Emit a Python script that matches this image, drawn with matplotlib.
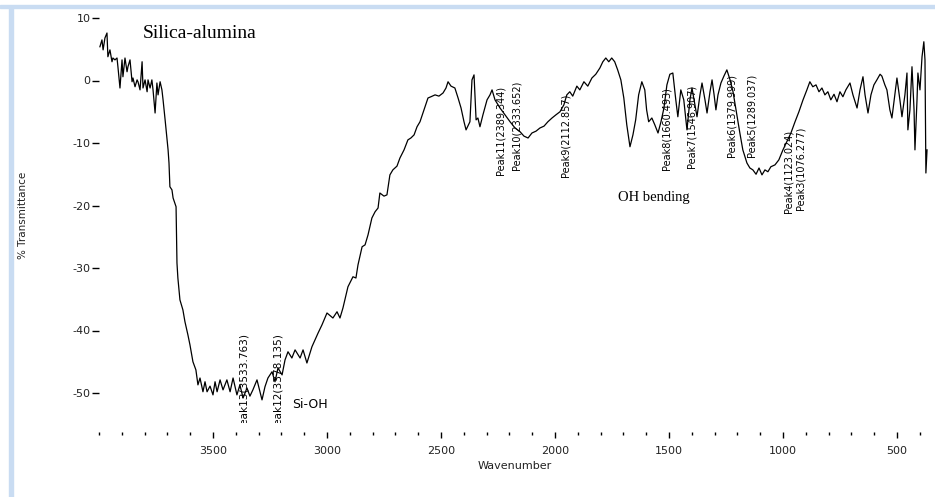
import matplotlib
matplotlib.use("Agg")
import matplotlib.pyplot as plt
from matplotlib.patches import Rectangle
from matplotlib.transforms import Bbox, TransformedBbox
from matplotlib.ticker import MultipleLocator

plt.rcParams["axes.unicode_minus"] = False

# ---- spectrum (wavenumber, % transmittance) ----
wavenumber = [3996, 3987, 3982, 3974, 3965, 3961, 3952, 3943, 3939, 3930,
              3921, 3917, 3908, 3899, 3895, 3886, 3877, 3873, 3864, 3855,
              3851, 3842, 3833, 3829, 3820, 3811, 3807, 3798, 3789, 3785,
              3776, 3768, 3763, 3754, 3746, 3741, 3732, 3724, 3719, 3710,
              3697, 3693, 3689, 3680, 3675, 3662, 3658, 3654, 3645, 3632,
              3623, 3610, 3601, 3588, 3575, 3566, 3557, 3544, 3535, 3526,
              3513, 3500, 3491, 3482, 3469, 3456, 3439, 3425, 3412, 3395,
              3382, 3368, 3351, 3338, 3325, 3307, 3294, 3285, 3272, 3259,
              3241, 3228, 3215, 3197, 3184, 3171, 3154, 3140, 3118, 3105,
              3088, 3066, 3039, 3022, 3000, 2974, 2956, 2943, 2930, 2908,
              2886, 2873, 2864, 2846, 2833, 2820, 2803, 2789, 2776, 2768,
              2750, 2737, 2724, 2711, 2693, 2680, 2662, 2645, 2632, 2618,
              2605, 2592, 2579, 2566, 2557, 2544, 2526, 2509, 2491, 2478,
              2469, 2456, 2439, 2425, 2412, 2399, 2390, 2382, 2373, 2364,
              2355, 2346, 2338, 2329, 2316, 2298, 2285, 2276, 2263, 2241,
              2219, 2197, 2175, 2153, 2136, 2118, 2101, 2083, 2066, 2048,
              2031, 2013, 1996, 1978, 1961, 1948, 1935, 1922, 1904, 1891,
              1873, 1856, 1838, 1821, 1803, 1790, 1777, 1764, 1751, 1738,
              1725, 1711, 1698, 1685, 1671, 1658, 1646, 1633, 1619, 1606,
              1598, 1589, 1575, 1562, 1548, 1535, 1522, 1509, 1496, 1483,
              1470, 1461, 1448, 1435, 1421, 1408, 1399, 1386, 1377, 1364,
              1355, 1342, 1333, 1320, 1311, 1302, 1294, 1285, 1272, 1259,
              1246, 1232, 1219, 1206, 1189, 1176, 1158, 1145, 1132, 1118,
              1105, 1092, 1079, 1066, 1053, 1035, 1018, 1000, 983, 965,
              947, 930, 912, 895, 882, 869, 855, 842, 829, 816,
              803, 790, 776, 763, 750, 737, 724, 706, 693, 675,
              662, 649, 640, 627, 614, 601, 588, 574, 566, 553,
              544, 531, 522, 509, 500, 487, 478, 465, 456, 452,
              443, 434, 425, 421, 412, 408, 399, 390, 382, 377,
              373, 368]
transmittance = [5.4, 6.5, 4.9, 6.8, 7.6, 3.8, 4.9, 3.0, 3.6, 3.3,
                 3.6, 2.2, -1.2, 3.3, 0.6, 3.6, 1.4, 2.2, 3.3, -0.2,
                 0.4, -1.0, 0.1, -0.2, -1.5, 3.0, -1.2, 0.1, -1.8, 0.1,
                 -1.2, 0.1, -1.5, -5.2, -0.4, -2.3, -0.2, -1.5, -3.1, -6.3,
                 -11.1, -13.2, -17.0, -17.5, -18.8, -20.2, -29.2, -31.6, -35.1, -36.7,
                 -38.6, -40.7, -42.3, -45.0, -46.3, -48.7, -47.6, -49.8, -48.2, -49.8,
                 -48.9, -50.3, -48.2, -49.8, -47.9, -49.5, -47.9, -49.8, -47.6, -50.3,
                 -48.7, -50.8, -49.2, -50.5, -49.5, -47.9, -49.8, -51.1, -49.0, -47.6,
                 -46.6, -48.2, -46.0, -47.1, -44.7, -43.4, -44.4, -43.1, -44.4, -43.1,
                 -45.2, -42.6, -40.4, -39.1, -37.2, -38.0, -37.0, -38.0, -36.4, -33.0,
                 -31.4, -31.6, -29.5, -26.6, -26.3, -24.7, -22.0, -21.0, -20.4, -18.0,
                 -18.5, -18.3, -15.1, -14.3, -13.7, -12.4, -11.1, -9.5, -9.2, -8.7,
                 -7.4, -6.6, -5.2, -3.8, -2.8, -2.6, -2.3, -2.5, -2.0, -1.2,
                 -0.2, -0.9, -1.2, -2.8, -4.4, -6.6, -7.9, -7.3, -6.6, 0.1,
                 0.9, -6.3, -6.0, -7.4, -5.5, -3.1, -2.3, -1.5, -3.1, -4.4,
                 -5.5, -6.6, -7.6, -8.2, -8.9, -9.2, -8.4, -8.1, -7.6, -7.3,
                 -6.6, -6.0, -5.5, -5.0, -3.9, -2.3, -1.8, -2.5, -0.9, -1.5,
                 -0.2, -0.9, 0.4, 1.0, 2.0, 3.0, 3.6, 3.0, 3.6, 3.0,
                 1.7, 0.1, -2.8, -7.1, -10.6, -8.7, -6.3, -2.3, -0.2, -1.5,
                 -4.7, -6.6, -6.0, -7.1, -8.4, -6.6, -4.4, -0.7, 1.0, 1.2,
                 -3.1, -5.8, -1.5, -3.1, -7.9, -3.1, -1.2, -3.9, -5.8, -2.3,
                 -0.4, -3.1, -5.2, -1.8, 0.1, -2.3, -4.7, -2.3, -0.4, 0.7,
                 1.7, 0.1, -1.8, -4.7, -8.4, -11.1, -13.2, -14.0, -14.3, -15.0,
                 -14.0, -15.1, -14.3, -14.6, -13.8, -13.5, -12.7, -11.1, -9.8, -8.4,
                 -6.6, -5.0, -3.1, -1.5, -0.2, -1.0, -0.7, -1.8, -1.2, -2.3,
                 -1.8, -3.1, -2.2, -3.4, -1.8, -2.6, -1.5, -0.4, -2.3, -4.4,
                 -1.5, 0.6, -2.3, -5.2, -2.3, -0.7, 0.1, 1.0, 0.7, -0.7,
                 -1.5, -4.7, -6.0, -2.3, 0.4, -3.1, -5.8, -2.3, 1.2, -7.9,
                 -4.7, 2.2, -4.7, -11.1, -3.1, 1.2, -1.5, 3.8, 6.2, 3.3,
                 -14.8, -11.1]

# peak labels (text, wavenumber position, transmittance of text end)
peak_top_labels = ["Peak11(2389.344)", "Peak10(2333.652)", "Peak9(2112.857)",
                   "Peak8(1660.493)", "Peak7(1546.907)", "Peak6(1379.999)",
                   "Peak5(1289.037)", "Peak4(1123.024)", "Peak3(1076.277)"]
peak_top_x = [2241, 2167, 1952, 1509, 1399, 1224, 1136, 976, 925]
peak_top_y = [-15.1, -14.3, -15.4, -14.3, -14.0, -12.2, -12.2, -21.2, -20.7]

peak_low_labels = ["Peak13(3533.763)", "Peak12(3378.135)"]
peak_low_x = [3368, 3215]
peak_low_y = [-40.4, -40.4]

y_ticks = [10, 0, -10, -20, -30, -40, -50]
x_ticks = [3500, 3000, 2500, 2000, 1500, 1000, 500]

W, H = 935, 497
fig = plt.figure(figsize=(W / 100, H / 100), dpi=100)
fig.patch.set_facecolor("white")

# light blue frame of the screenshot
fig.patches.append(Rectangle((0, 1 - 8 / H), 1, 3 / H, transform=fig.transFigure,
                             color="#c9dcf2", zorder=0))
fig.patches.append(Rectangle((9 / W, 0), 4 / W, 1 - 8 / H, transform=fig.transFigure,
                             color="#c9dcf2", zorder=0))

ax = fig.add_axes([99 / W, 1 - 432 / H, (930 - 99) / W, (432 - 8) / H])
ax.plot(wavenumber, transmittance, color="black", lw=0.9)
ax.set_xlim(4000, 355)
ax.set_ylim(-56.24, 11.6)

for s in ax.spines.values():
    s.set_visible(False)

ax.set_xticks(x_ticks)
ax.xaxis.set_minor_locator(MultipleLocator(100))
ax.set_yticks(y_ticks)
ax.tick_params(axis="x", which="major", direction="out", length=4, width=1,
               pad=6, labelsize=8, labelcolor="#222222")
ax.tick_params(axis="x", which="minor", direction="out", length=2, width=1)
ax.tick_params(axis="y", which="major", direction="out", length=5, width=1,
               pad=1, labelsize=8, labelcolor="#222222")

fig.text(23 / W, 1 - 215 / H, "% Transmittance", rotation=90, ha="center",
         va="center", fontsize=7.5, color="#222222")
fig.text(515 / W, 1 - 466 / H, "Wavenumber", ha="center", va="center",
         fontsize=8, color="#222222")

for t, x, y in zip(peak_top_labels, peak_top_x, peak_top_y):
    ax.text(x, y, t, rotation=90, ha="center", va="bottom", fontsize=7)

# the two low labels run past the plot floor and are cut there
clip = TransformedBbox(Bbox([[0, 1 - 423 / H], [1, 1]]), fig.transFigure)
for t, x, y in zip(peak_low_labels, peak_low_x, peak_low_y):
    txt = ax.text(x, y, t, rotation=90, ha="center", va="top", fontsize=7.6)
    txt.set_clip_box(clip)
    txt.set_clip_on(True)

ax.text(3154, -51.9, "Si-OH", ha="left", va="center", fontsize=9)
ax.text(1724, -18.8, "OH bending", ha="left", va="center", fontsize=10.5,
        family="Liberation Serif")
ax.text(3807, 7.6, "Silica-alumina", ha="left", va="center", fontsize=14,
        family="Liberation Serif")

fig.savefig("out.png", dpi=100)
